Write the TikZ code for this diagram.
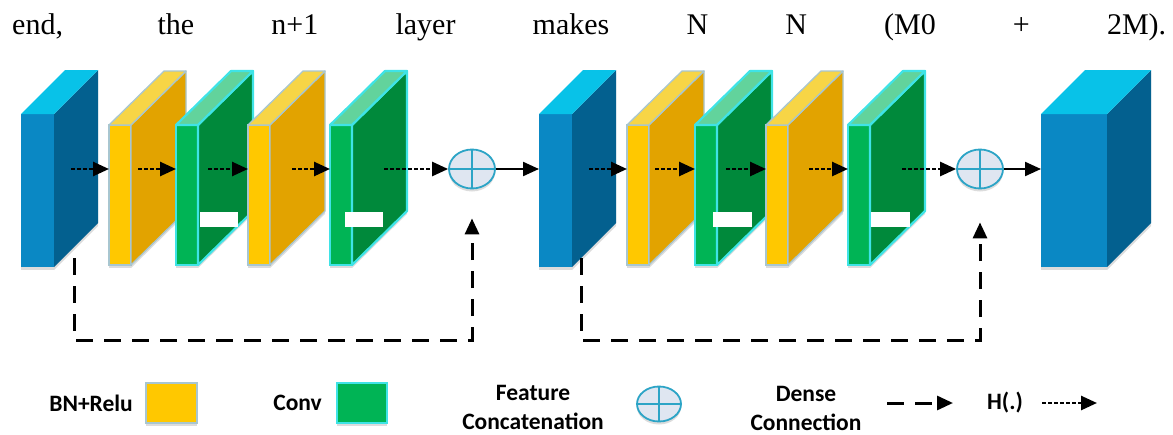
\documentclass[tikz,border=0pt]{standalone}
\usepackage{fontspec}
\setmainfont{Liberation Serif}
\newfontfamily\legendfont{Carlito}
\usepackage{tikz}
\usetikzlibrary{positioning,shapes.geometric,arrows.meta,shadows}

\definecolor{blueF}{HTML}{0A88C4}
\definecolor{blueS}{HTML}{03608F}
\definecolor{blueT}{HTML}{08C2E8}
\definecolor{bnF}{HTML}{FFC800}
\definecolor{bnS}{HTML}{E2A300}
\definecolor{bnT}{HTML}{F7D546}
\definecolor{bnLine}{HTML}{A8C6D0}
\definecolor{convF}{HTML}{00B455}
\definecolor{convS}{HTML}{00893B}
\definecolor{convT}{HTML}{62D39C}
\definecolor{convLine}{HTML}{3FE3E6}
\definecolor{catF}{HTML}{DFE6F1}
\definecolor{catLine}{HTML}{2CA4C6}

\begin{document}
\begin{tikzpicture}[x=1pt,y=-1pt,
    faceShadow/.style={%
        drop shadow={shadow xshift=0pt, shadow yshift=-3pt, fill=black!30, opacity=.45}
    },
    blueFace/.style={%
        rectangle,
        fill=blueF,
        minimum width=33pt,
        minimum height=153pt,
        inner sep=0pt,
        outer sep=0pt,
        anchor=north west,
        faceShadow
    },
    bigFace/.style={%
        blueFace,
        minimum width=66pt
    },
    blueSide/.style={fill=blueS, faceShadow},
    blueTop/.style={fill=blueT},
    bnFace/.style={%
        rectangle,
        draw=bnLine,
        line width=1.3pt,
        fill=bnF,
        minimum width=22pt,
        minimum height=140pt,
        inner sep=0pt,
        outer sep=0pt,
        anchor=north west,
        faceShadow
    },
    bnSide/.style={draw=bnLine, line width=1.3pt, fill=bnS, line join=round, faceShadow},
    bnTop/.style={draw=bnLine, line width=1.3pt, fill=bnT, line join=round},
    convFace/.style={%
        rectangle,
        draw=convLine,
        line width=2.2pt,
        fill=convF,
        minimum width=22pt,
        minimum height=140pt,
        inner sep=0pt,
        outer sep=0pt,
        anchor=north west,
        faceShadow
    },
    convSide/.style={draw=convLine, line width=2.2pt, fill=convS, line join=round, faceShadow},
    convTop/.style={draw=convLine, line width=2.2pt, fill=convT, line join=round},
    catNode/.style={%
        ellipse,
        draw=catLine,
        line width=1.8pt,
        fill=catF,
        minimum width=46pt,
        minimum height=39pt,
        inner sep=0pt,
        faceShadow
    },
    catCross/.style={draw=catLine, line width=1.5pt},
    bnKey/.style={%
        rectangle,
        draw=bnLine,
        line width=1.3pt,
        fill=bnF,
        minimum width=51pt,
        minimum height=40pt,
        inner sep=0pt,
        faceShadow
    },
    convKey/.style={%
        bnKey,
        draw=convLine,
        line width=2.2pt,
        fill=convF,
        minimum width=50pt
    },
    legendText/.style={%
        font=\legendfont\bfseries\fontsize{23.5}{29}\selectfont,
        inner sep=0pt
    },
    hpath/.style={->, line width=2.6pt, dash pattern=on 3.5pt off 2.5pt},
    dense/.style={->, line width=3pt, dash pattern=on 17pt off 11pt},
    plain/.style={->, line width=2.2pt},
    >={Triangle[length=16pt,width=14pt]}
]
\useasboundingbox (0,0) rectangle (1173,434);

% Text line above the figure
    \node[anchor=base west, inner sep=0pt] (caption) at (12,34)
        {\fontsize{30}{34}\selectfont\makebox[1154pt][s]{end, the n+1 layer makes N N (M0 + 2M).}};

% Dense block 1
    \node[blueFace] (blue1) at (21,114) {};
    \fill[blueSide] (blue1.north east) -- ++(44,-44) -- ++(0,153) -- (blue1.south east) -- cycle;
    \fill[blueTop] (blue1.north west) -- ++(44,-44) -- ++(33,0) -- (blue1.north east) -- cycle;

    \node[bnFace] (bn1) at (109,125) {};
    \filldraw[bnSide] (bn1.north east) -- ++(55,-54) -- ++(0,140) -- (bn1.south east) -- cycle;
    \filldraw[bnTop] (bn1.north west) -- ++(55,-54) -- ++(22,0) -- (bn1.north east) -- cycle;

    \node[convFace] (conv1) at (176,125) {};
    \filldraw[convSide] (conv1.north east) -- ++(55,-54) -- ++(0,140) -- (conv1.south east) -- cycle;
    \filldraw[convTop] (conv1.north west) -- ++(55,-54) -- ++(22,0) -- (conv1.north east) -- cycle;
    \fill[white] (200,212) rectangle (238,227);

    \node[bnFace] (bn2) at (248,125) {};
    \filldraw[bnSide] (bn2.north east) -- ++(55,-54) -- ++(0,140) -- (bn2.south east) -- cycle;
    \filldraw[bnTop] (bn2.north west) -- ++(55,-54) -- ++(22,0) -- (bn2.north east) -- cycle;

    \node[convFace] (conv2) at (330,125) {};
    \filldraw[convSide] (conv2.north east) -- ++(55,-54) -- ++(0,140) -- (conv2.south east) -- cycle;
    \filldraw[convTop] (conv2.north west) -- ++(55,-54) -- ++(22,0) -- (conv2.north east) -- cycle;
    \fill[white] (345,212) rectangle (383,227);

    \node[catNode] (cat1) at (472,169) {};
    \path[catCross] (cat1.north) -- (cat1.south) (cat1.west) -- (cat1.east);

% Dense block 2
    \node[blueFace] (blue2) at (539,114) {};
    \fill[blueSide] (blue2.north east) -- ++(44,-44) -- ++(0,153) -- (blue2.south east) -- cycle;
    \fill[blueTop] (blue2.north west) -- ++(44,-44) -- ++(33,0) -- (blue2.north east) -- cycle;

    \node[bnFace] (bn3) at (627,125) {};
    \filldraw[bnSide] (bn3.north east) -- ++(55,-54) -- ++(0,140) -- (bn3.south east) -- cycle;
    \filldraw[bnTop] (bn3.north west) -- ++(55,-54) -- ++(22,0) -- (bn3.north east) -- cycle;

    \node[convFace] (conv3) at (695,125) {};
    \filldraw[convSide] (conv3.north east) -- ++(55,-54) -- ++(0,140) -- (conv3.south east) -- cycle;
    \filldraw[convTop] (conv3.north west) -- ++(55,-54) -- ++(22,0) -- (conv3.north east) -- cycle;
    \fill[white] (713,212) rectangle (752,227);

    \node[bnFace] (bn4) at (766,125) {};
    \filldraw[bnSide] (bn4.north east) -- ++(55,-54) -- ++(0,140) -- (bn4.south east) -- cycle;
    \filldraw[bnTop] (bn4.north west) -- ++(55,-54) -- ++(22,0) -- (bn4.north east) -- cycle;

    \node[convFace] (conv4) at (848,125) {};
    \filldraw[convSide] (conv4.north east) -- ++(55,-54) -- ++(0,140) -- (conv4.south east) -- cycle;
    \filldraw[convTop] (conv4.north west) -- ++(55,-54) -- ++(22,0) -- (conv4.north east) -- cycle;
    \fill[white] (871,212) rectangle (910,227);

    \node[catNode] (cat2) at (980,169) {};
    \path[catCross] (cat2.north) -- (cat2.south) (cat2.west) -- (cat2.east);

% Output block
    \node[bigFace] (blue3) at (1041,114) {};
    \fill[blueSide] (blue3.north east) -- ++(44,-44) -- ++(0,153) -- (blue3.south east) -- cycle;
    \fill[blueTop] (blue3.north west) -- ++(44,-44) -- ++(66,0) -- (blue3.north east) -- cycle;

% H(.) arrows
    \coordinate (h1) at (71,169);
    \coordinate (h2) at (138,169);
    \coordinate (h3) at (208,169);
    \coordinate (h4) at (292,169);
    \coordinate (h5) at (384,169);
    \coordinate (h6) at (589,169);
    \coordinate (h7) at (655,169);
    \coordinate (h8) at (726,169);
    \coordinate (h9) at (809,169);
    \coordinate (h10) at (902,169);
\draw[hpath] (h1) -- (bn1.west |- h1);
\draw[hpath] (h2) -- (conv1.west |- h2);
\draw[hpath] (h3) -- (bn2.west |- h3);
\draw[hpath] (h4) -- (conv2.west |- h4);
\draw[hpath] (h5) -- (cat1);
\draw[hpath] (h6) -- (bn3.west |- h6);
\draw[hpath] (h7) -- (conv3.west |- h7);
\draw[hpath] (h8) -- (bn4.west |- h8);
\draw[hpath] (h9) -- (conv4.west |- h9);
\draw[hpath] (h10) -- (cat2);

\draw[plain] (cat1) -- (blue2.west |- cat1);
\draw[plain] (cat2) -- (blue3.west |- cat2);

% Dense connections
    \coordinate (d1) at (74,258);
    \coordinate (d2) at (581,258);
\draw[dense, shorten >=29pt] (d1) -- ++(0,82) -| (cat1.south);
\draw[dense, shorten >=33pt] (d2) -- ++(0,82) -| (cat2.south);

% Legend
    \node[legendText, anchor=east] (bnLabel) at (133,403) {BN+Relu};
    \node[bnKey] (bnSample) at (171.5,403) {};
    \node[legendText, anchor=east] (convLabel) at (322,403) {Conv};
    \node[convKey] (convSample) at (362,403) {};
    \node[legendText, align=center] (catLabel) at (533,407) {Feature\\Concatenation};
    \node[catNode, minimum width=44pt, minimum height=35pt] (catSample) at (659,404) {};
    \path[catCross] (catSample.north) -- (catSample.south) (catSample.west) -- (catSample.east);
    \node[legendText, align=center] (denseLabel) at (806,408) {Dense\\Connection};
    \coordinate (denseFrom) at (887,403);
    \coordinate (denseTo) at (953,403);
\draw[dense] (denseFrom) -- (denseTo);
    \node[legendText] (hLabel) at (1005,403) {H(.)};
    \coordinate (hFrom) at (1042,403);
    \coordinate (hTo) at (1097,403);
\draw[hpath] (hFrom) -- (hTo);

\end{tikzpicture}
\end{document}
